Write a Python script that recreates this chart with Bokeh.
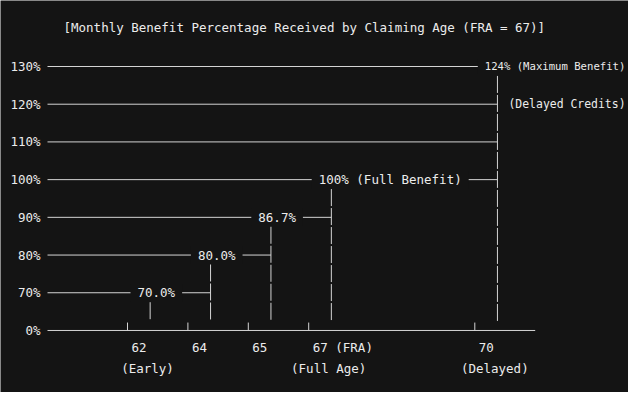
import math

from bokeh.core.properties import value
from bokeh.embed import file_html
from bokeh.models import Label, Range1d
from bokeh.plotting import figure
from bokeh.resources import INLINE

# claiming ages and the share of the full benefit each one gets
ages = [62, 64, 65, 67, 70]
age_labels = ["62", "64", "65", "67 (FRA)", "70"]
age_notes = ["(Early)", "", "", "(Full Age)", "(Delayed)"]
benefit_pct = [70.0, 80.0, 86.7, 100.0, 124.0]
benefit_labels = ["70.0%", "80.0%", "86.7%", "100% (Full Benefit)", "124% (Maximum Benefit)"]
pct_ticks = [0, 70, 80, 90, 100, 110, 120, 130]
fra_age = 67
credits_note = "(Delayed Credits)"
title = "[Monthly Benefit Percentage Received by Claiming Age (FRA = 67)]"

BG = "#141414"
FG = "#ececec"
LINE = "#d4d4d4"
FONT = value("DejaVu Sans Mono")
FS = 12.5          # px
CHAR_W = 0.602     # DejaVu Sans Mono advance, in em

W, H = 628, 392
LINE_LEFT = 47     # where the row lines start
SLOT_PX = 60.4     # pixels per age slot
TICK0_PX = 127     # where the first age sits
TOP_ROW_PX = 66    # where the top row sits
ROW_PX = 3.771     # pixels per percent point
PAD = 7            # gap left around a label on a row line
LABEL_DX = 10      # label start, right of its tick

# one slot per age, with a wider gap before the delayed ages
GAP = 1.75
slots = [i + (GAP if a > fra_age else 0) for i, a in enumerate(ages)]
# the 0% row is drawn one step under 70% (broken axis)
base = pct_ticks[1] - 10
ypos = [t if t else base for t in pct_ticks]
# each value is drawn on the row at or above it
levels = [math.ceil(b / 10) * 10 for b in benefit_pct]
stem_x = [s + 0.375 for s in slots]
half_line = 2.5   # half a text line, in y units
tick_len = 2.1

X0 = -TICK0_PX / SLOT_PX
X1 = X0 + W / SLOT_PX
XL = (LINE_LEFT - TICK0_PX) / SLOT_PX
Y1 = pct_ticks[-1] + TOP_ROW_PX / ROW_PX
Y0 = Y1 - H / ROW_PX


def fit_size(x_data, dx, text):
    # shrink a label that would run past the right edge
    start = (x_data - X0) * SLOT_PX + dx
    room = W - 3 - start
    return f"{min(FS, room / (CHAR_W * len(text))):.2f}px"


p = figure(width=W, height=H, output_backend="svg", toolbar_location=None,
           x_range=Range1d(X0, X1), y_range=Range1d(Y0, Y1),
           x_axis_location=None, y_axis_location=None, min_border=0,
           background_fill_color=BG, border_fill_color=BG, outline_line_color=None)
p.grid.visible = False

p.add_layout(Label(x=63, y=H - 27, x_units="screen", y_units="screen", text=title,
                   text_font="DejaVu Sans Mono", text_font_size=f"{FS}px",
                   text_color=FG, text_baseline="middle"))

# percentage labels at the start of each row
p.text(x=[XL] * len(ypos), y=ypos, text=[f"{t}%" for t in pct_ticks], x_offset=-7,
       text_align="right", text_baseline="middle",
       text_font=FONT, text_font_size=f"{FS}px", text_color=FG)

# row lines run until they meet the stem of the next higher age
row_y, row_x1 = [], []
for r in pct_ticks[1:]:
    nxt = next((i for i, l in enumerate(levels) if l > r), len(levels) - 1)
    row_y.append(r)
    row_x1.append(stem_x[nxt])
p.segment(x0=[XL] * len(row_y), y0=row_y, x1=row_x1, y1=row_y,
          line_color=LINE, line_width=1)

# stems from each value down to the baseline
p.segment(x0=stem_x, y0=[l - half_line for l in levels],
          x1=stem_x, y1=[base + half_line] * len(ages),
          line_color=LINE, line_width=1, line_dash="17 2")

# baseline and tick marks
p.segment(x0=[XL], y0=[base], x1=[slots[-1] + 1], y1=[base], line_color=LINE, line_width=1)
p.segment(x0=slots, y0=[base] * len(slots), x1=slots, y1=[base + tick_len] * len(slots),
          line_color=LINE, line_width=1)

# value labels sit on their rows and break the row line
p.text(x=slots, y=levels, text=benefit_labels, x_offset=LABEL_DX - PAD,
       text_align="left", text_baseline="middle",
       text_font=FONT, text_font_size=[fit_size(s, LABEL_DX, t) for s, t in zip(slots, benefit_labels)],
       text_color=FG,
       background_fill_color=BG, padding=dict(left=PAD, right=PAD, top=1, bottom=1))
p.text(x=[stem_x[-1]], y=[levels[-1] - 10], text=[credits_note], x_offset=11,
       text_align="left", text_baseline="middle",
       text_font=FONT, text_font_size=fit_size(stem_x[-1], 11, credits_note),
       text_color=FG)

# age labels under the baseline
p.text(x=slots, y=[base] * len(slots), text=age_labels, x_offset=4, y_offset=17,
       text_align="left", text_baseline="middle",
       text_font=FONT, text_font_size=f"{FS}px", text_color=FG)
p.text(x=slots, y=[base] * len(slots), text=age_notes, x_offset=20, y_offset=38,
       text_align="center", text_baseline="middle",
       text_font=FONT, text_font_size=f"{FS}px", text_color=FG)

open("out.html", "w").write(file_html(p, INLINE))
